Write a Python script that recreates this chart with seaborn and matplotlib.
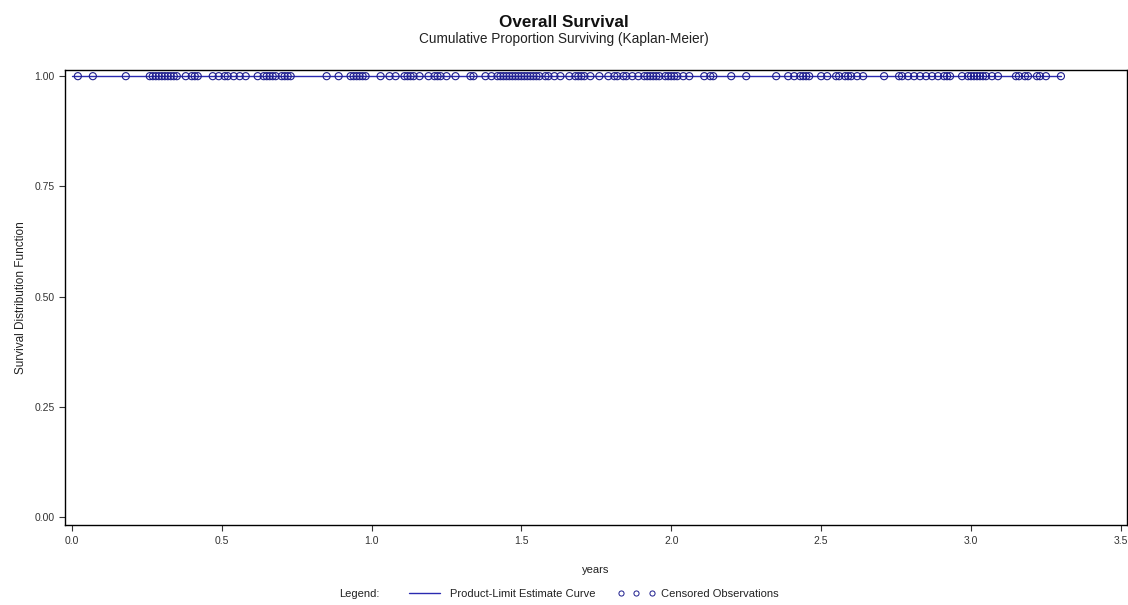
import numpy as np
import pandas as pd
import matplotlib
matplotlib.use("Agg")
import matplotlib.pyplot as plt
from matplotlib.lines import Line2D
import seaborn as sns

# ---- data: censored observation times (years); no deaths observed ----
censor_times = [
    0.02, 0.07, 0.18,
    0.26, 0.27, 0.28, 0.29, 0.30, 0.31, 0.32, 0.33, 0.34, 0.35,
    0.38, 0.40, 0.41, 0.42,
    0.47, 0.49, 0.51, 0.52, 0.54, 0.56, 0.58,
    0.62, 0.64, 0.65, 0.66, 0.67, 0.68, 0.70, 0.71, 0.72, 0.73,
    0.85, 0.89,
    0.93, 0.94, 0.95, 0.96, 0.97, 0.98,
    1.03, 1.06, 1.08, 1.11, 1.12, 1.13, 1.14, 1.16, 1.19, 1.21, 1.22, 1.23, 1.25, 1.28,
    1.33, 1.34,
    1.38, 1.40, 1.42, 1.43, 1.44, 1.45, 1.46, 1.47, 1.48, 1.49, 1.50, 1.51, 1.52, 1.53,
    1.54, 1.55, 1.56, 1.58, 1.59, 1.61, 1.63, 1.66, 1.68, 1.69, 1.70, 1.71, 1.73, 1.76, 1.79,
    1.81, 1.82, 1.84, 1.85, 1.87, 1.89, 1.91, 1.92, 1.93, 1.94, 1.95, 1.96, 1.98, 1.99,
    2.00, 2.01, 2.02, 2.04, 2.06,
    2.11, 2.13, 2.14, 2.20, 2.25,
    2.35, 2.39, 2.41, 2.43, 2.44, 2.45, 2.46, 2.50, 2.52, 2.55, 2.56, 2.58, 2.59, 2.60, 2.62, 2.64,
    2.71, 2.76, 2.77, 2.79, 2.81, 2.83, 2.85, 2.87, 2.89, 2.91, 2.92, 2.93, 2.97, 2.99,
    3.00, 3.01, 3.02, 3.03, 3.04, 3.05, 3.07, 3.09,
    3.15, 3.16, 3.18, 3.19, 3.22, 3.23, 3.25, 3.30,
]
events = [0] * len(censor_times)  # 0 = censored

x_ticks = [0.0, 0.5, 1.0, 1.5, 2.0, 2.5, 3.0, 3.5]
y_ticks = [0.00, 0.25, 0.50, 0.75, 1.00]

# ---- Kaplan-Meier product-limit estimate ----
df = pd.DataFrame({"time": censor_times, "event": events}).sort_values("time")
times = np.sort(df["time"].unique())
n_at_risk = len(df)
surv = 1.0
km_t, km_s = [0.0], [1.0]
for t in times:
    d = df.loc[(df.time == t) & (df.event == 1)].shape[0]
    c = df.loc[df.time == t].shape[0]
    if n_at_risk > 0:
        surv *= (1 - d / n_at_risk)
    km_t.append(t)
    km_s.append(surv)
    n_at_risk -= c
km = pd.DataFrame({"time": km_t, "surv": km_s})
cens = df[df.event == 0].copy()
cens["surv"] = np.interp(cens["time"], km["time"], km["surv"])

# ---- plot ----
sns.set_style("white")
plt.rcParams["font.family"] = ["Liberation Sans", "DejaVu Sans"]

line_col = "#2a2ab0"
mark_col = "#1c1c8c"

fig = plt.figure(figsize=(11.28, 6.05), dpi=100)
ax = fig.add_axes([0.0576, 0.132, 0.9414, 0.752])

sns.lineplot(data=km, x="time", y="surv", drawstyle="steps-post",
             color=line_col, linewidth=1.0, ax=ax, legend=False)
sns.scatterplot(data=cens, x="time", y="surv", ax=ax, s=26,
                facecolor="none", edgecolor=mark_col, linewidth=0.8,
                marker="o", legend=False, zorder=3)

ax.set_xlim(-0.023, 3.52)
ax.set_ylim(-0.018, 1.0136)
ax.set_xticks(x_ticks)
ax.set_xticklabels([f"{v:.1f}" for v in x_ticks])
ax.set_yticks(y_ticks)
ax.set_yticklabels([f"{v:.2f}" for v in y_ticks])
ax.tick_params(axis="both", direction="out", length=4, width=0.8,
               labelsize=7.5, colors="#333333", labelcolor="#333333",
               bottom=True, left=True)
for sp in ax.spines.values():
    sp.set_color("#000000")
    sp.set_linewidth(1.0)

ax.set_xlabel("years", fontsize=8, color="#222222", labelpad=14)
ax.set_ylabel("Survival Distribution Function", fontsize=8.5, color="#222222", labelpad=5)

fig.text(0.5, 0.963, "Overall Survival", ha="center", va="center",
         fontsize=12.3, fontweight="bold", color="#111111")
fig.text(0.5, 0.935, "Cumulative Proportion Surviving (Kaplan-Meier)",
         ha="center", va="center", fontsize=9.8, color="#222222")

fig.text(0.301, 0.019, "Legend:", ha="left", va="center", fontsize=8, color="#222222")
handles = [
    Line2D([], [], color=line_col, linewidth=1.0),
    Line2D([], [], color=mark_col, marker="o", linestyle="none",
           markerfacecolor="none", markersize=3.7, markeredgewidth=0.7),
]
fig.legend(handles, ["Product-Limit Estimate Curve", "Censored Observations"],
           loc="center left", bbox_to_anchor=(0.355, 0.019), ncol=2, frameon=False,
           fontsize=8, numpoints=3, handlelength=3.4, handletextpad=0.55,
           columnspacing=2.0, labelcolor="#222222", borderpad=0.0)

fig.savefig("out.png", dpi=100)
